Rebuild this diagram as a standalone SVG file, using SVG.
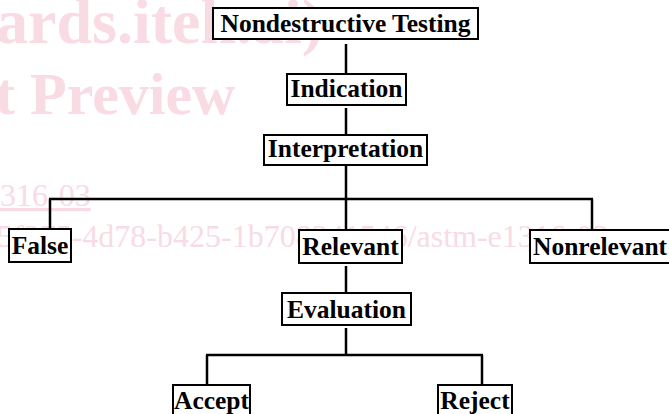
<svg xmlns="http://www.w3.org/2000/svg" width="669" height="414" viewBox="0 0 669 414">
<style>
.wm{fill:#f8dbe3;font-family:"Liberation Serif","Times New Roman",serif}
.wmb{font-weight:bold}
.box{fill:#fff;stroke:#000;stroke-width:2}
.lbl{font-family:"Liberation Serif","Times New Roman",serif;font-weight:bold;font-size:25.5px;fill:#000;text-anchor:middle}
.con{stroke:#000;stroke-width:2.5;fill:none}
</style>
<rect width="669" height="414" fill="#fff"/>
<g id="watermark">
<text class="wm wmb" x="-4" y="43" font-size="64">ards.iteh.ai)</text>
<text class="wm wmb" x="-5" y="114" font-size="60">t Preview</text>
<text class="wm" x="0" y="206" font-size="32" text-decoration="underline">316-03</text>
<text class="wm" x="-3" y="247" font-size="32">5f375-4d78-b425-1b708241546/astm-e1316-03</text>
</g>
<g id="connectors">
<line class="con" x1="346" y1="44" x2="346" y2="74"/>
<line class="con" x1="346" y1="108" x2="346" y2="135"/>
<line class="con" x1="346" y1="166" x2="346" y2="199"/>
<line class="con" x1="49" y1="199" x2="593" y2="199"/>
<line class="con" x1="50" y1="199" x2="50" y2="228"/>
<line class="con" x1="346" y1="199" x2="346" y2="230"/>
<line class="con" x1="592" y1="199" x2="592" y2="230"/>
<line class="con" x1="346" y1="266" x2="346" y2="293"/>
<line class="con" x1="346" y1="328" x2="346" y2="355"/>
<line class="con" x1="206" y1="355" x2="483" y2="355"/>
<line class="con" x1="207" y1="355" x2="207" y2="385"/>
<line class="con" x1="482" y1="355" x2="482" y2="385"/>
</g>
<g id="node-nondestructive-testing">
<rect class="box" x="213" y="8" width="265" height="31"/>
<text class="lbl" x="345.5" y="32">Nondestructive Testing</text>
</g>
<g id="node-indication">
<rect class="box" x="287" y="74" width="119" height="31"/>
<text class="lbl" x="346.5" y="97">Indication</text>
</g>
<g id="node-interpretation">
<rect class="box" x="264" y="135" width="163" height="30"/>
<text class="lbl" x="345.5" y="157">Interpretation</text>
</g>
<g id="node-false">
<rect class="box" x="9" y="229" width="62" height="33"/>
<text class="lbl" x="40" y="254">False</text>
</g>
<g id="node-relevant">
<rect class="box" x="299" y="230" width="103" height="33"/>
<text class="lbl" x="350.5" y="255">Relevant</text>
</g>
<g id="node-nonrelevant">
<rect class="box" x="530" y="230" width="142" height="33"/>
<text class="lbl" x="533" y="255" style="text-anchor:start">Nonrelevant</text>
</g>
<g id="node-evaluation">
<rect class="box" x="282" y="293" width="129" height="32"/>
<text class="lbl" x="346.5" y="318">Evaluation</text>
</g>
<g id="node-accept">
<rect class="box" x="173" y="385" width="77" height="34"/>
<text class="lbl" x="211.5" y="409">Accept</text>
</g>
<g id="node-reject">
<rect class="box" x="438" y="385" width="74" height="34"/>
<text class="lbl" x="475" y="409">Reject</text>
</g>
</svg>
